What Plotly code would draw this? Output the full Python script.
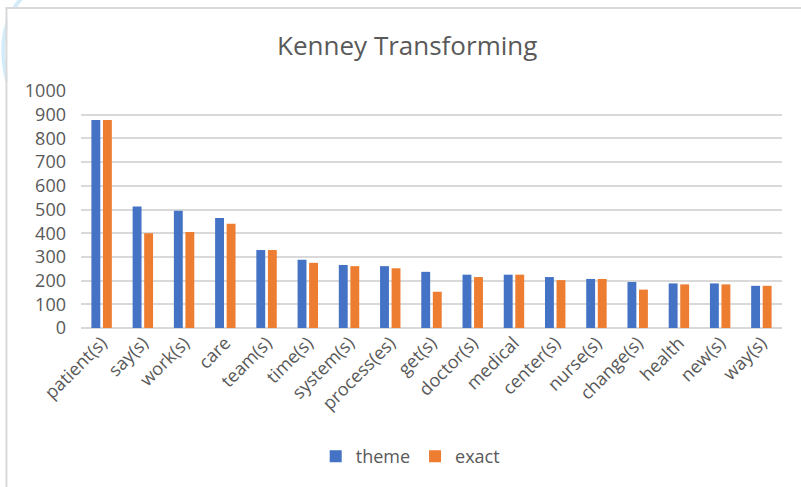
import plotly.graph_objects as go

categories = ["patient(s)", "say(s)", "work(s)", "care", "team(s)", "time(s)", "system(s)",
              "process(es)", "get(s)", "doctor(s)", "medical", "center(s)", "nurse(s)",
              "change(s)", "health", "new(s)", "way(s)"]
theme = [878, 513, 495, 464, 329, 288, 266, 261, 237, 225, 225, 215, 207, 194, 188, 188, 178]
exact = [878, 400, 405, 440, 329, 275, 261, 252, 153, 215, 225, 202, 207, 162, 184, 184, 178]
y_ticks = list(range(0, 1001, 100))

W, H = 801, 487
L, R = 80.6, 782.0
T, B = 91.0, 328.3

def px(x):
    return (x - L) / (R - L)

def py(y):
    return (B - y) / (B - T)

TXT = "#595959"
FONT = "Open Sans"

fig = go.Figure()
fig.add_trace(go.Bar(name="theme", x=categories, y=theme, marker=dict(color="#4472C4", line=dict(width=0))))
fig.add_trace(go.Bar(name="exact", x=categories, y=exact, marker=dict(color="#ED7D31", line=dict(width=0))))

shapes = []
# faint blue arc in background (top-left)
p0, p1, p2 = (21, -2), (-6, 30), (7, 82)
shapes.append(dict(type="path", xref="paper", yref="paper", layer="below",
                   path=f"M {px(p0[0])},{py(p0[1])} Q {px(p1[0])},{py(p1[1])} {px(p2[0])},{py(p2[1])}",
                   line=dict(color="#d4ecf9", width=4)))
# white chart area covering the arc
shapes.append(dict(type="rect", xref="paper", yref="paper", layer="below",
                   x0=px(7), x1=px(810), y0=py(9), y1=py(500),
                   fillcolor="white", line=dict(width=0)))
# frame lines
shapes.append(dict(type="line", xref="paper", yref="paper", layer="below",
                   x0=px(6), x1=px(810), y0=py(8), y1=py(8),
                   line=dict(color="#d9d9d9", width=2)))
shapes.append(dict(type="line", xref="paper", yref="paper", layer="below",
                   x0=px(6), x1=px(6), y0=py(7), y1=py(500),
                   line=dict(color="#d9d9d9", width=2)))

fig.update_layout(
    width=W, height=H,
    margin=dict(l=L, r=W - R, t=T, b=H - B, pad=0),
    paper_bgcolor="white", plot_bgcolor="white",
    barmode="group", bargap=0.44, bargroupgap=0.23,
    title=dict(text="Kenney Transforming", xref="paper", x=px(407), xanchor="center",
               y=1 - 46 / H, yanchor="middle",
               font=dict(family=FONT, size=26, color=TXT)),
    font=dict(family=FONT, size=18, color=TXT),
    xaxis=dict(tickangle=-45, tickfont=dict(family=FONT, size=18, color=TXT),
               showgrid=False, showline=False, ticks="", zeroline=False),
    yaxis=dict(range=[0, 1000], tickvals=y_ticks, tickfont=dict(family=FONT, size=18, color=TXT),
               showgrid=True, gridcolor="#d9d9d9", gridwidth=1.5, zeroline=True,
               zerolinecolor="#d9d9d9", zerolinewidth=1.5, showline=False, ticks="",
               ticklabelstandoff=14),
    legend=dict(orientation="h", x=px(410), xanchor="center", y=py(457), yanchor="middle",
                font=dict(family=FONT, size=18, color=TXT), itemwidth=30, traceorder="normal"),
    shapes=shapes,
)

fig.write_html("out.html")
